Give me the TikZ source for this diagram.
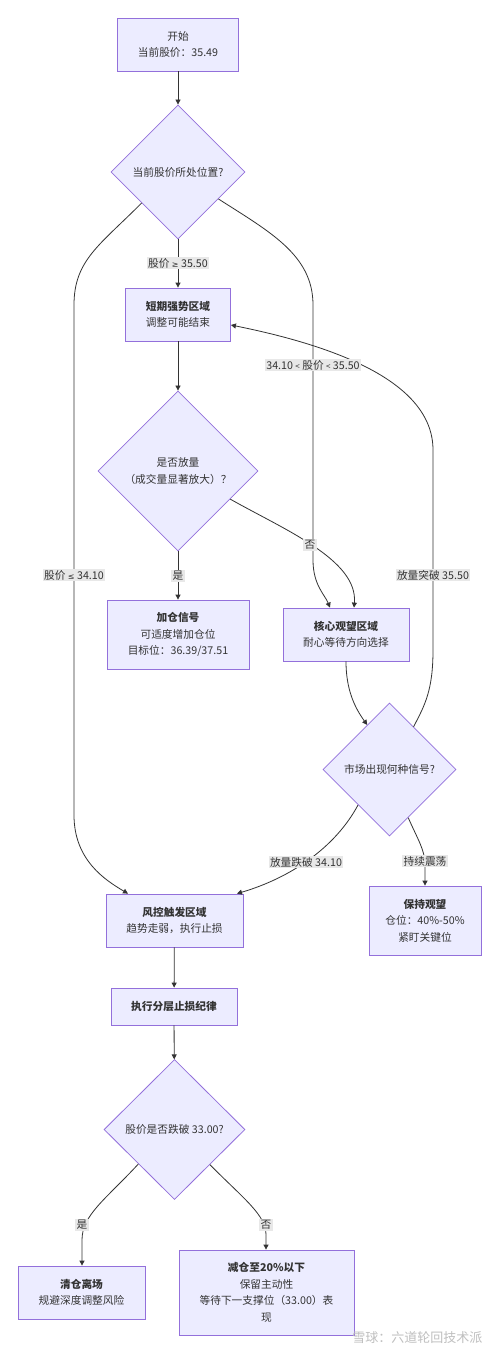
\documentclass[tikz,border=0pt]{standalone}
\usepackage{fontspec}
\setmainfont{Noto Sans CJK SC}
\newfontfamily\symf{DejaVu Sans}
\usetikzlibrary{shapes.geometric,arrows.meta,calc}
\definecolor{boxfill}{HTML}{ECECFF}
\definecolor{boxline}{HTML}{9370DB}
\definecolor{edgec}{HTML}{333333}
\definecolor{lblbg}{HTML}{E8E8E8}
\newcommand{\mygeq}{{\symf\fontsize{8}{10}\selectfont ≥}}
\newcommand{\myleq}{{\symf\fontsize{8}{10}\selectfont ≤}}
\begin{document}
\begin{tikzpicture}[x=1pt,y=-1pt, font=\fontsize{10.7}{16.5}\selectfont, text=edgec,
 box/.style={draw=boxline, fill=boxfill, line width=0.8pt, align=center, inner sep=0pt},
 dec/.style={diamond, draw=boxline, fill=boxfill, line width=0.8pt, align=center, inner sep=0pt, aspect=1},
 conn/.style={draw=edgec, line width=0.8pt, -{Triangle[length=5pt,width=5pt]}},
 lbl/.style={fill=lblbg, inner sep=1.5pt, text=edgec}]
\useasboundingbox[fill=white] (0,0) rectangle (500,1354);

% nodes
\node[box, minimum width=121pt, minimum height=53pt] (start) at (178,44.5) {开始\\当前股价：35.49};
\node[dec, minimum width=134pt, minimum height=134pt] (d1) at (178,172) {当前股价所处位置?};
\node[box, minimum width=105pt, minimum height=53pt] (s2) at (178,314.5) {\textbf{短期强势区域}\\调整可能结束};
\node[dec, minimum width=160pt, minimum height=160pt] (d2) at (178,471) {是否放量\\（成交量显著放大）？};
\node[box, minimum width=142pt, minimum height=69pt] (add) at (178,634.5) {\textbf{加仓信号}\\可适度增加仓位\\目标位：36.39/37.51};
\node[box, minimum width=126pt, minimum height=53pt] (core) at (346,634.5) {\textbf{核心观望区域}\\耐心等待方向选择};
\node[dec, minimum width=133pt, minimum height=133pt] (d3) at (389.5,769.5) {市场出现何种信号?};
\node[box, minimum width=112pt, minimum height=69pt] (hold) at (425,920.5) {\textbf{保持观望}\\仓位：40\%-50\%\\紧盯关键位};
\node[box, minimum width=137pt, minimum height=53pt] (risk) at (174.5,920.5) {\textbf{风控触发区域}\\趋势走弱，执行止损};
\node[box, minimum width=126pt, minimum height=37pt] (exec) at (174,1006.5) {\textbf{执行分层止损纪律}};
\node[dec, minimum width=141pt, minimum height=140pt] (d4) at (174.5,1129.5) {股价是否跌破 33.00?};
\node[box, minimum width=127pt, minimum height=53pt] (clear) at (81.5,1292.5) {\textbf{清仓离场}\\规避深度调整风险};
\node[box, minimum width=175pt, minimum height=85pt] (reduce) at (266.5,1292.5) {\textbf{减仓至20\%以下}\\保留主动性\\等待下一支撑位（33.00）表\\现};

% connectors
\draw[conn] (start) -- (d1);
\draw[conn] (d1) -- (s2);
\draw[conn] ($(d1.west)!0.46!(d1.south)$) .. controls (100,245) and (74,260) .. (74,305) -- (74,815) .. controls (74,860) and (105,880) .. ([xshift=-46.5pt]risk.north);
\draw[conn] ($(d1.east)!0.4!(d1.south)$) .. controls (270,232) and (313,255) .. (313,305) -- (313,560) .. controls (313,585) and (325,595) .. ([xshift=-16pt]core.north);
\draw[conn] (s2) -- (d2);
\draw[conn] (d2) -- (add);
\draw[conn] ($(d2.east)!0.35!(d2.south)$) .. controls (285,530) and (358,560) .. ([xshift=8pt]core.north);
\draw[conn] (core.south) .. controls (346,690) and (355,708) .. ($(d3.west)!0.667!(d3.north)$);
\draw[conn] ($(d3.north)!0.36!(d3.east)$) .. controls (425,705) and (433,690) .. (433,650) -- (433,450) .. controls (433,380) and (330,345) .. ([yshift=-10.5pt]s2.east);
\draw[conn] ($(d3.west)!0.53!(d3.south)$) .. controls (335,848) and (290,878) .. ([xshift=62.5pt]risk.north);
\draw[conn] ($(d3.east)!0.72!(d3.south)$) .. controls (418,840) and (425,850) .. (425,865) -- (hold.north);
\draw[conn] (risk) -- (exec);
\draw[conn] (exec) -- (d4);
\draw[conn] ($(d4.west)!0.49!(d4.south)$) .. controls (105,1200) and (82,1215) .. (82,1240) -- ([xshift=0.5pt]clear.north);
\draw[conn] ($(d4.east)!0.5!(d4.south)$) .. controls (245,1200) and (266,1215) .. (266,1235) -- ([xshift=-0.5pt]reduce.north);

% labels
\node[lbl] (l1) at (178,263) {股价 \mygeq{} 35.50};
\node[lbl] (l2) at (74,575) {股价 \myleq{} 34.10};
\node[lbl] (l3) at (313,365) {34.10 {\fontsize{8}{10}\selectfont<} 股价 {\fontsize{8}{10}\selectfont<} 35.50};
\node[lbl] (l4) at (178,576) {是};
\node[lbl] (l5) at (310,545) {否};
\node[lbl] (l6) at (433,575) {放量突破 35.50};
\node[lbl] (l7) at (306,862) {放量跌破 34.10};
\node[lbl] (l8) at (425,861) {持续震荡};
\node[lbl] (l9) at (82,1225) {是};
\node[lbl] (l10) at (266,1225) {否};

% watermark
\node[text=black!25, font=\fontsize{13}{15}\selectfont, anchor=east] (wm) at (486,1338) {雪球：六道轮回技术派};
\end{tikzpicture}
\end{document}
